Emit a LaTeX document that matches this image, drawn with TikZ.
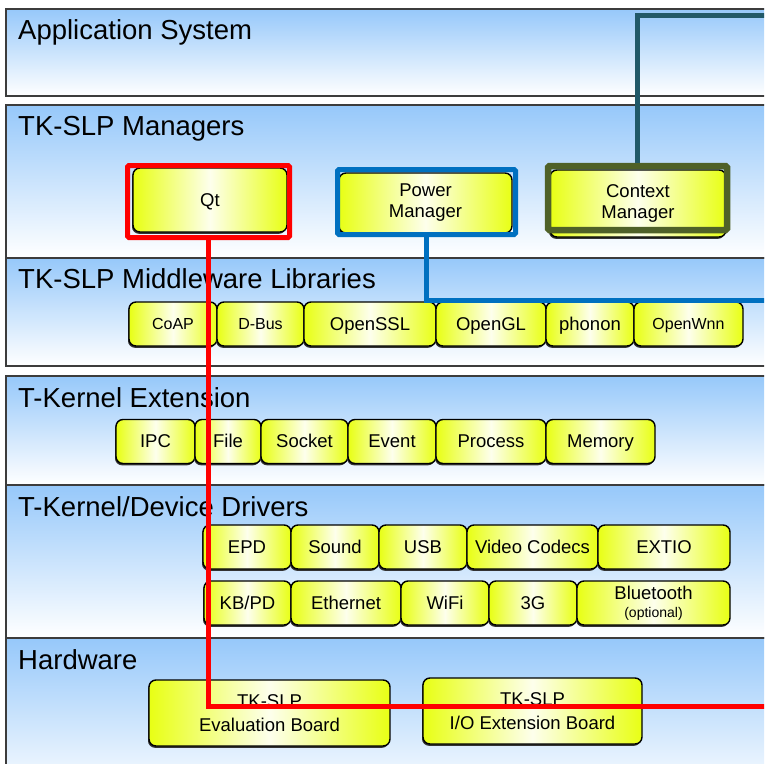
\documentclass[tikz,border=0pt]{standalone}
\usepackage{fontspec}
\setmainfont{Liberation Sans}
\usepackage{xcolor}
\usepackage{tikz}
\usetikzlibrary{positioning,shadows}

\definecolor{layerblue}{RGB}{150,200,250}
\definecolor{layerline}{RGB}{60,60,60}
\definecolor{boxyellow}{RGB}{232,255,20}
\definecolor{qtred}{RGB}{255,0,0}
\definecolor{pmblue}{RGB}{0,112,192}
\definecolor{cmolive}{RGB}{79,97,40}
\definecolor{cmteal}{RGB}{33,89,104}

\begin{document}
\begin{tikzpicture}[x=1pt, y=-1pt,
        layer/.style={
            draw=layerline, line width=1.8pt, top color=layerblue, bottom color=white,
            anchor=north west, minimum width=800, inner sep=0pt
        },
        ttl/.style ={anchor=base west, inner sep=0pt, font=\fontsize{27.5}{30}\selectfont},
        unit/.style={
            draw=black, line width=1.4pt, rounded corners=7pt, inner sep=0pt, outer sep=0pt,
            left color=boxyellow, right color=boxyellow, middle color=boxyellow!8,
            minimum height=44, align=center, font=\fontsize{18.5}{21}\selectfont,
            drop shadow={shadow xshift=-1pt, shadow yshift=-1.8pt, opacity=1, fill=black!80}
        },
        blk/.style ={unit, text height=13.5, text depth=1.5},
        sblk/.style={unit, font=\fontsize{16}{19}\selectfont, text height=11.7, text depth=1.3},
        hblk/.style={unit, font=\fontsize{18.5}{24}\selectfont},
        frm/.style ={line width=5pt, rounded corners=1.5pt, inner sep=0pt},
        link/.style={line width=5pt}
    ]
        \useasboundingbox (0,0) rectangle (764,764);
        \clip (0,0) rectangle (764,764);
        \fill[white] (0,0) rectangle (764,764);

        % layers
        \node[layer, minimum height=87]  (app) at (5,8)   {};
        \node[layer, minimum height=153] (mgr) at (5,104) {};
        \node[layer, minimum height=108] (mid) at (5,257) {};
        \node[layer, minimum height=109] (ext) at (5,375) {};
        \node[layer, minimum height=153] (drv) at (5,484) {};
        \node[layer, minimum height=160] (hw)  at (5,637) {};

        \node[ttl] (appT) at ([shift={(13,31)}]app.north west) {Application System};
        \node[ttl] (mgrT) at ([shift={(13,31)}]mgr.north west) {TK-SLP Managers};
        \node[ttl] (midT) at ([shift={(13,31)}]mid.north west) {TK-SLP Middleware Libraries};
        \node[ttl] (extT) at ([shift={(13,32)}]ext.north west) {T-Kernel Extension};
        \node[ttl] (drvT) at ([shift={(13,32)}]drv.north west) {T-Kernel/Device Drivers};
        \node[ttl] (hwT)  at ([shift={(13,32)}]hw.north west)  {Hardware};

        % managers
        \node[blk,  minimum width=154, minimum height=64] (qt) at (210,200)   {Qt};
        \node[unit, minimum width=173, minimum height=60] (pm) at (425.5,203) {Power\\Manager};
        \node[unit, minimum width=176, minimum height=67] (cm) at (638,203.5) {Context\\Manager};

        % middleware libraries
        \node[sblk, minimum width=88, anchor=west]  (coap)   at (129,324) {CoAP};
        \node[sblk, minimum width=87,  right=0pt of coap]   (dbus)   {D-Bus};
        \node[blk,  minimum width=132, right=0pt of dbus]   (ossl)   {OpenSSL};
        \node[blk,  minimum width=110, right=0pt of ossl]   (ogl)    {OpenGL};
        \node[blk,  minimum width=88,  right=0pt of ogl]    (phonon) {phonon};
        \node[sblk, minimum width=109, right=0pt of phonon] (wnn)    {OpenWnn};

        % kernel extension
        \node[blk, minimum width=79, anchor=west] (ipc) at (116,441.5) {IPC};
        \node[blk, minimum width=66,  right=0pt of ipc]  (file) {File};
        \node[blk, minimum width=87,  right=0pt of file] (sock) {Socket};
        \node[blk, minimum width=88,  right=0pt of sock] (evt)  {Event};
        \node[blk, minimum width=110, right=0pt of evt]  (proc) {Process};
        \node[blk, minimum width=109, right=0pt of proc] (mem)  {Memory};

        % device drivers
        \node[blk, minimum width=88, anchor=west] (epd) at (203,547) {EPD};
        \node[blk, minimum width=88,  right=0pt of epd]   (snd)   {Sound};
        \node[blk, minimum width=88,  right=0pt of snd]   (usb)   {USB};
        \node[blk, minimum width=131, right=0pt of usb]   (vcod)  {Video Codecs};
        \node[blk, minimum width=132, right=0pt of vcod]  (extio) {EXTIO};
        \node[blk, minimum width=87, anchor=west] (kbpd) at (204,603) {KB/PD};
        \node[blk, minimum width=110, right=0pt of kbpd]  (eth)   {Ethernet};
        \node[blk, minimum width=88,  right=0pt of eth]   (wifi)  {WiFi};
        \node[blk, minimum width=88,  right=0pt of wifi]  (tg)    {3G};
        \node[unit, minimum width=153, right=0pt of tg]   (bt)
            {Bluetooth\\[-3pt]{\fontsize{14}{14}\selectfont(optional)}};

        % hardware
        \node[hblk, minimum width=241, minimum height=66] (evb)  at (269.5,713) {TK-SLP\\Evaluation Board};
        \node[hblk, minimum width=219, minimum height=66] (ioeb) at (532.5,711) {TK-SLP\\I/O Extension Board};

        % highlight frames
        \node[frm, draw=qtred,  minimum width=162, minimum height=72] (qtF) at (208.5,201.5) {};
        \node[frm, draw=pmblue, minimum width=178, minimum height=65] (pmF) at (426.5,202) {};
        \node[frm, draw=cmolive, line width=6.5pt, minimum width=179, minimum height=64] (cmF) at (637.5,198) {};

        \coordinate (qtEnd) at (770,706);
        \coordinate (pmEnd) at (770,300);
        \coordinate (cmEnd) at (770,15);
        \draw[link, qtred]  (qtF.south) |- (qtEnd);
        \draw[link, pmblue] (pmF.south) |- (pmEnd);
        \draw[link, cmteal] (cmF.north) |- (cmEnd);
    \end{tikzpicture}
\end{document}
